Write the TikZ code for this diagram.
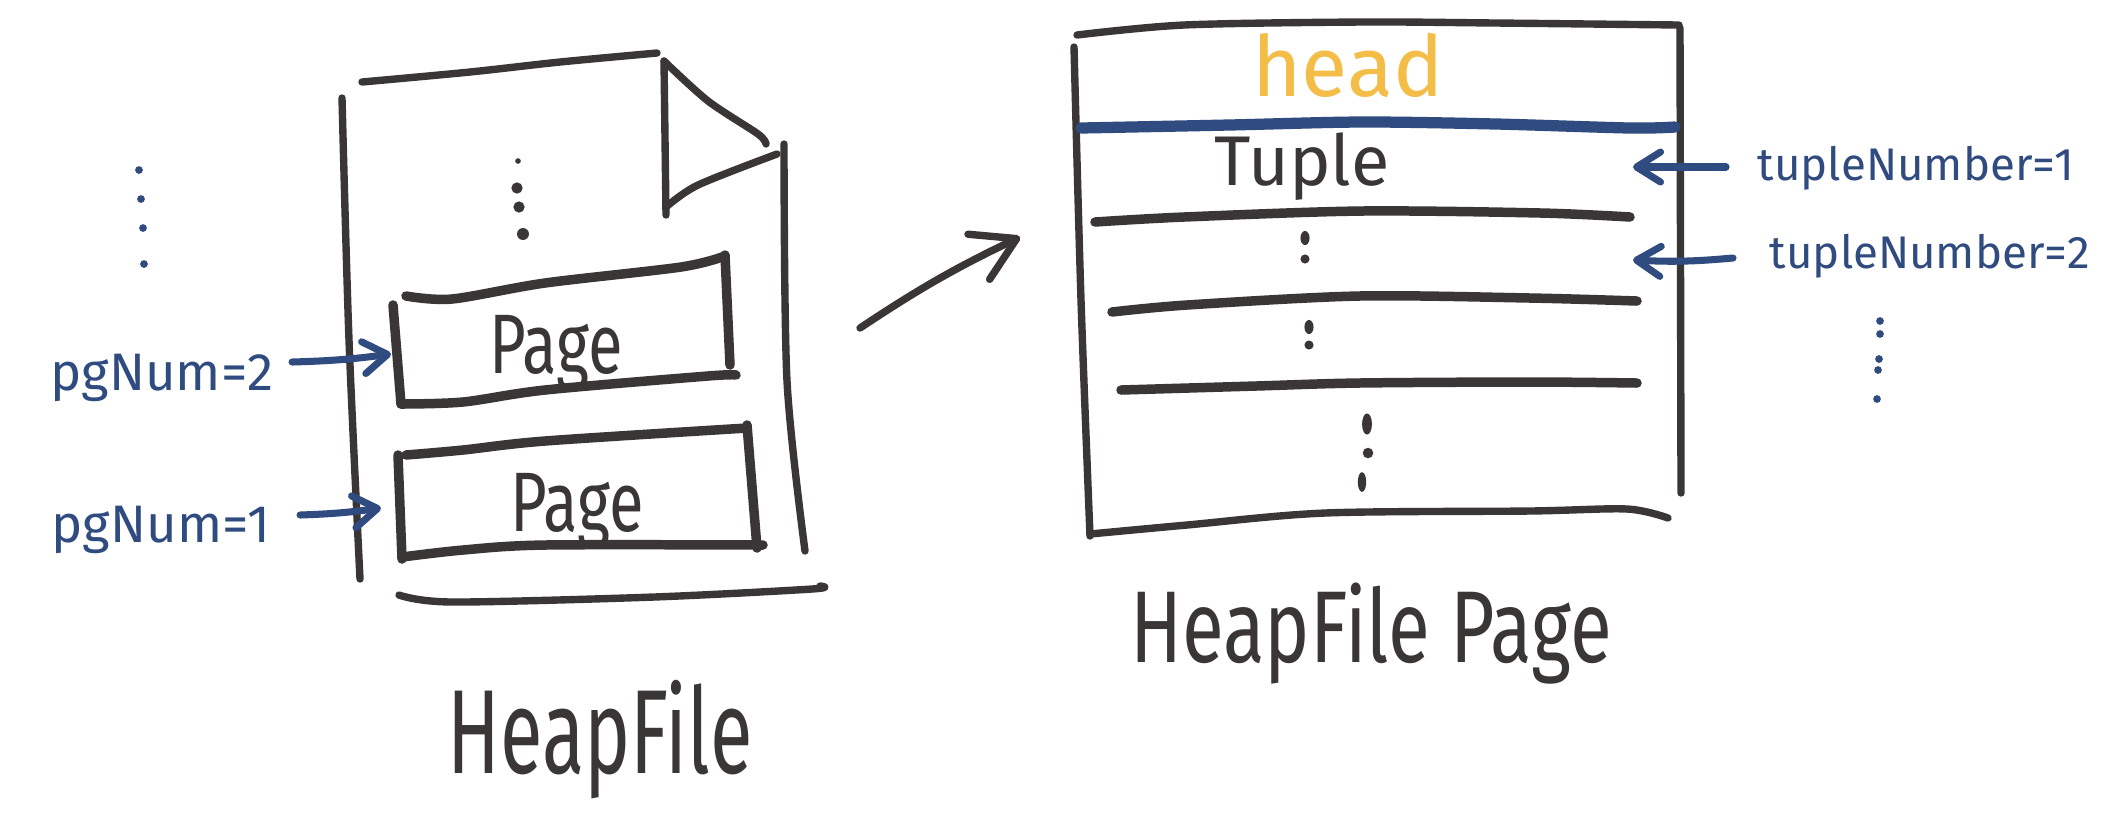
\documentclass[tikz,border=0pt]{standalone}
\usepackage{fontspec}
\setmainfont{Fira Sans}
\newfontfamily\handn[FakeStretch=0.75]{Fira Sans}
\newfontfamily\handc[FakeStretch=0.65]{Fira Sans}
\usetikzlibrary{arrows.meta}
\definecolor{ink}{HTML}{3B3636}
\definecolor{bluepen}{HTML}{2F4B7F}
\definecolor{yellowpen}{HTML}{F3BD47}
\begin{document}
\begin{tikzpicture}[x=0.01cm,y=-0.01cm,line cap=round,line join=round,
  inkline/.style={draw=ink,line width=2.1pt},
  thickline/.style={draw=ink,line width=2.7pt},
  blueline/.style={draw=bluepen,line width=2pt},
  bluebar/.style={draw=bluepen,line width=3.2pt},
  txt/.style={inner sep=0pt,anchor=base},
  inkdot/.style={fill=ink},
  bluedot/.style={fill=bluepen},
  smallbarb/.style={-{Straight Barb[length=0.24cm,width=0.32cm,round]}},
  bigbarb/.style={-{Straight Barb[length=0.42cm,width=0.5cm,round]}}]
\useasboundingbox (0,0) rectangle (2124,826);
\fill[white] (0,0) rectangle (2124,826);

% ---------- left: HeapFile ----------
\draw[inkline] plot[smooth] coordinates {(342,98) (349,340) (360,579)};
\draw[inkline] plot[smooth] coordinates {(362,82) (470,72) (560,62) (657,53)};
\draw[inkline] (664,61) -- (666,215);
\draw[inkline] plot[smooth] coordinates {(664,61) (708,101) (758,134) (766,144)};
\draw[inkline] plot[smooth] coordinates {(666,207) (698,185) (777,154)};
\draw[inkline] plot[smooth] coordinates {(784,144) (787,381) (805,551)};
\draw[inkline] plot[smooth] coordinates {(399,595) (452,602) (654,597) (812,589) (820,586)};
\fill[inkdot] (518,161) circle[radius=0.8pt];
\fill[inkdot] (517,188) circle[radius=1.6pt];
\fill[inkdot] (519,207) circle[radius=1.6pt];
\fill[inkdot] (523,234) circle[radius=1.7pt];

% page box (upper)
\draw[thickline] plot[smooth] coordinates {(406,296) (452,299) (545,283) (681,267) (725,256)};
\draw[thickline] (393,305) -- (401,404);
\draw[thickline] (725,255) -- (730,365);
\draw[thickline] plot[smooth] coordinates {(401,404) (463,402) (545,390) (708,376) (736,375)};
\node[txt,font=\handn\fontsize{24}{28}\selectfont,text=ink] (page2) at (556,373) {Page};

% page box (lower)
\draw[thickline] plot[smooth] coordinates {(406,455) (463,450) (545,441) (747,428)};
\draw[thickline] (398,455) -- (402,559);
\draw[thickline] (747,425) -- (757,548);
\draw[thickline] plot[smooth] coordinates {(402,557) (463,550) (545,545) (763,545)};
\node[txt,font=\handn\fontsize{24}{28}\selectfont,text=ink] (page1) at (577,531) {Page};

\node[txt,font=\handc\fontsize{34}{40}\selectfont,text=ink] (heapfile) at (600,773) {HeapFile};

% blue labels left
\node[txt,font=\fontsize{15}{18}\selectfont,text=bluepen] (pg2) at (162,390) {pgNum=2};
\node[txt,font=\fontsize{15}{18}\selectfont,text=bluepen] (pg1) at (161,542) {pgNum=1};
\coordinate (pg2s) at (292,362);
\coordinate (pg2e) at (391,354);
\coordinate (pg1s) at (300,515);
\coordinate (pg1e) at (381,508);
\draw[blueline,smallbarb] (pg2s) to[bend right=3] (pg2e);
\draw[blueline,smallbarb] (pg1s) to[bend right=3] (pg1e);
\fill[bluedot] (139,170) circle[radius=1.1pt];
\fill[bluedot] (141,199) circle[radius=1.1pt];
\fill[bluedot] (143,228) circle[radius=1.1pt];
\fill[bluedot] (144,264) circle[radius=1.1pt];

% middle arrow
\coordinate (mids) at (860,328);
\coordinate (mide) at (1020,237);
\draw[inkline,bigbarb] (mids) to[bend left=4] (mide);

% ---------- right: HeapFile Page ----------
\draw[inkline] plot[smooth] coordinates {(1077,35) (1184,25) (1362,22) (1496,23) (1679,25)};
\draw[inkline] plot[smooth] coordinates {(1074,47) (1081,300) (1090,536)};
\draw[inkline] (1680,28) -- (1681,493);
\draw[inkline] plot[smooth] coordinates {(1090,534) (1187,525) (1325,513) (1530,511) (1627,509) (1668,518)};
\draw[bluebar] plot[smooth] coordinates {(1081,128) (1229,125) (1362,122) (1496,124) (1630,128) (1675,127)};
\draw[thickline] plot[smooth] coordinates {(1095,222) (1184,217) (1362,211) (1541,213) (1630,217)};
\draw[thickline] plot[smooth] coordinates {(1112,312) (1187,305) (1359,296) (1530,298) (1637,301)};
\draw[thickline] plot[smooth] coordinates {(1121,390) (1256,386) (1359,383) (1530,382) (1637,383)};
\node[txt,font=\fontsize{24}{28}\selectfont,text=yellowpen] (head) at (1348,96) {head};
\node[txt,font=\fontsize{20}{24}\selectfont,text=ink] (tuple) at (1302,185) {Tuple};
\fill[inkdot] (1305,238) ellipse[x radius=1.3pt,y radius=2pt];
\fill[inkdot] (1305,259) circle[radius=1.3pt];
\fill[inkdot] (1309,327) ellipse[x radius=1.3pt,y radius=2pt];
\fill[inkdot] (1309,345) circle[radius=1.3pt];
\fill[inkdot] (1367,424) ellipse[x radius=1.4pt,y radius=3pt];
\fill[inkdot] (1368,453) circle[radius=1.5pt];
\fill[inkdot] (1362,482) ellipse[x radius=1.2pt,y radius=2.8pt];

\node[txt,font=\fontsize{13}{16}\selectfont,text=bluepen] (tn1) at (1916,180) {tupleNumber=1};
\node[txt,font=\fontsize{13}{16}\selectfont,text=bluepen] (tn2) at (1930,268) {tupleNumber=2};
\coordinate (tn1s) at (1726,167);
\coordinate (tn1e) at (1633,167);
\coordinate (tn2s) at (1733,258);
\coordinate (tn2e) at (1633,260);
\draw[blueline,-{Straight Barb[length=0.24cm,width=0.3cm,round]}] (tn1s) -- (tn1e);
\draw[blueline,-{Straight Barb[length=0.24cm,width=0.3cm,round]}] (tn2s) to[bend left=4] (tn2e);
\fill[bluedot] (1880,321) circle[radius=1.1pt];
\fill[bluedot] (1880,334) circle[radius=1.1pt];
\fill[bluedot] (1879,359) circle[radius=1.1pt];
\fill[bluedot] (1878,370) circle[radius=1.1pt];
\fill[bluedot] (1877,399) circle[radius=1.1pt];

\node[txt,font=\handn\fontsize{29}{34}\selectfont,text=ink] (hfpage) at (1371,662) {HeapFile Page};
\end{tikzpicture}
\end{document}
